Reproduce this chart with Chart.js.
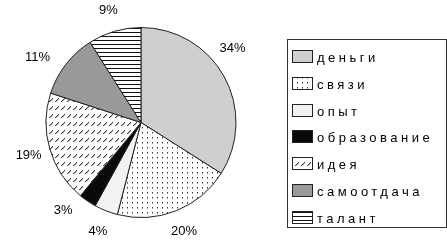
<!DOCTYPE html>
<html lang="ru">
<head>
    <meta charset="UTF-8">
    <title>Pie</title>
    <script src="https://cdn.jsdelivr.net/npm/chart.js"></script>
    <style>
        body {
            margin: 0;
            background: #ffffff;
        }
        #wrap {
            width: 447px;
            height: 245px;
        }
    </style>
</head>
<body>
    <div id="wrap">
        <canvas id="chart" width="447" height="245"></canvas>
    </div>

    <script>
        const categories = ['деньги', 'связи', 'опыт', 'образование', 'идея', 'самоотдача', 'талант'];
        const shares = [34, 20, 4, 3, 19, 11, 9];

        // excel "best fit" moved a few labels, nudge them (px)
        const labelNudge = { 0: [-11, -18], 3: [-12, -9], 5: [-11, 7] };

        function tile(w, h, draw) {
            const c = document.createElement('canvas');
            c.width = w;
            c.height = h;
            const g = c.getContext('2d');
            g.fillStyle = '#ffffff';
            g.fillRect(0, 0, w, h);
            draw(g);
            return document.getElementById('chart').getContext('2d').createPattern(c, 'repeat');
        }

        const fills = [
            '#cfcfcf',
            tile(5, 5, g => { g.fillStyle = '#333'; g.fillRect(2, 2, 1, 1); g.fillStyle = '#999'; g.fillRect(2, 3, 1, 1); }),
            '#f2f2f2',
            '#0a0a0a',
            tile(6, 8, g => {
                g.fillStyle = '#444';
                g.fillRect(1, 5, 1, 1); g.fillRect(2, 4, 1, 1); g.fillRect(3, 3, 1, 1); g.fillRect(4, 2, 1, 1);
                g.fillStyle = '#aaa';
                g.fillRect(2, 5, 1, 1); g.fillRect(3, 4, 1, 1); g.fillRect(4, 3, 1, 1);
            }),
            '#999999',
            tile(4, 4, g => { g.fillStyle = '#111'; g.fillRect(0, 0, 4, 1); })
        ];

        const labelsPlugin = {
            id: 'pctLabels',
            afterDatasetsDraw(chart) {
                const ctx = chart.ctx;
                const meta = chart.getDatasetMeta(0);
                ctx.save();
                ctx.font = '13px "Liberation Sans", Arial, sans-serif';
                ctx.fillStyle = '#000';
                ctx.textAlign = 'center';
                ctx.textBaseline = 'middle';
                meta.data.forEach((arc, i) => {
                    const p = arc.getProps(['x', 'y', 'startAngle', 'endAngle', 'outerRadius'], true);
                    const mid = (p.startAngle + p.endAngle) / 2;
                    const d = p.outerRadius + 22;
                    const n = labelNudge[i] || [0, 0];
                    ctx.fillText(shares[i] + '%', p.x + Math.cos(mid) * d + n[0], p.y + Math.sin(mid) * d + n[1]);
                });
                ctx.restore();
            }
        };

        const legendPlugin = {
            id: 'boxLegend',
            afterDraw(chart) {
                const ctx = chart.ctx;
                ctx.save();
                ctx.strokeStyle = '#333';
                ctx.lineWidth = 1;
                ctx.strokeRect(287.5, 39.5, 159, 188);
                ctx.font = '13px "Liberation Sans", Arial, sans-serif';
                ctx.textBaseline = 'middle';
                ctx.letterSpacing = '3.5px';
                categories.forEach((name, i) => {
                    const y = Math.round(57 + i * 26.8);
                    ctx.fillStyle = fills[i];
                    ctx.fillRect(292, y - 7, 21, 13);
                    ctx.strokeStyle = '#222';
                    ctx.strokeRect(292.5, y - 6.5, 20, 12);
                    ctx.fillStyle = '#000';
                    ctx.fillText(name, 317, y + 1);
                });
                ctx.restore();
            }
        };

        new Chart(document.getElementById('chart'), {
            type: 'pie',
            data: {
                labels: categories,
                datasets: [{
                    data: shares,
                    backgroundColor: fills,
                    borderColor: '#222',
                    borderWidth: 1
                }]
            },
            options: {
                responsive: false,
                animation: false,
                layout: { padding: { top: 27, bottom: 27, left: 0, right: 165 } },
                plugins: {
                    legend: { display: false },
                    tooltip: { enabled: false }
                }
            },
            plugins: [labelsPlugin, legendPlugin]
        });
    </script>
</body>
</html>
